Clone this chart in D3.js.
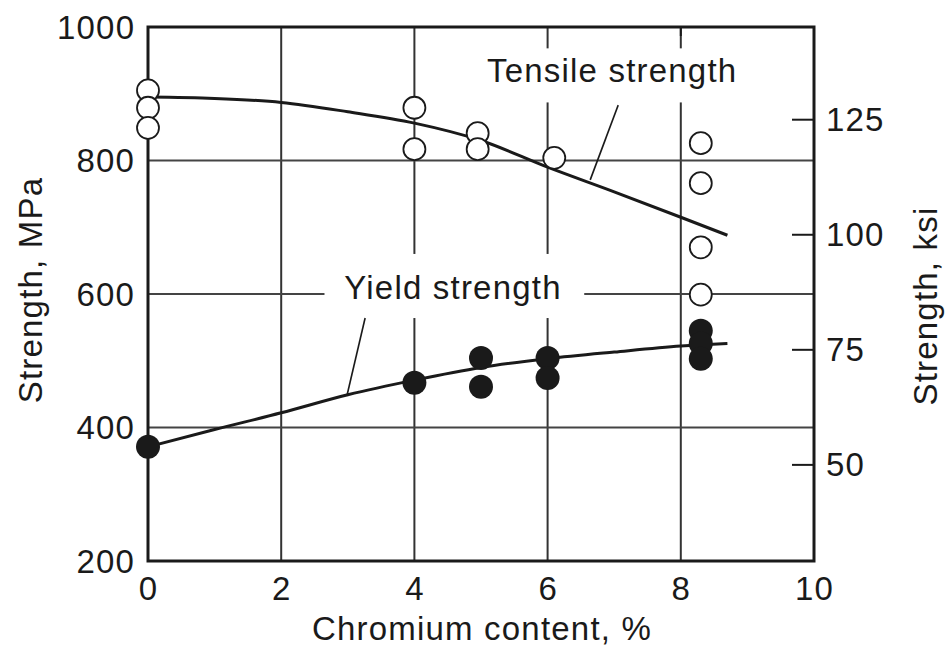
<!DOCTYPE html>
<html>
<head>
<meta charset="utf-8">
<script src="https://cdn.jsdelivr.net/npm/d3@7"></script>
<style>
  html, body { margin: 0; padding: 0; background: #fff; }
  svg { display: block; font-family: 'Liberation Sans', Arial, Helvetica, sans-serif; }
</style>
</head>
<body>
<div id="chart"></div>
<script>
// measured points, MPa
const tensileX = [0, 0, 0, 4, 4, 4.95, 4.95, 6.1, 8.3, 8.3, 8.3, 8.3]
const tensileMPa = [905, 879, 849, 879, 817, 841, 817, 804, 826, 766, 670, 599]
const yieldX = [0, 4, 5, 5, 6, 6, 8.3, 8.3, 8.3]
const yieldMPa = [371, 467, 504, 461, 504, 474, 545, 526, 503]

// fitted curves as drawn
const curveX = [0, 1, 2, 3, 4, 5, 6, 7, 8, 8.7]
const tensileCurveMPa = [895, 893, 887, 873, 856, 830, 790, 753, 715, 688]
const yieldCurveMPa = [371, 397, 422, 449, 471, 490, 503, 513, 522, 526]

const xTicks = [0, 2, 4, 6, 8, 10]
const yTicks = [200, 400, 600, 800, 1000]
const ksiTicks = [50, 75, 100, 125]
const xGrid = [2, 4, 6, 8]
const yGrid = [400, 600, 800]
const MPA_PER_KSI = 6.895

// box = [x0, x1, MPa top, MPa bottom], white patch that breaks the grid
const labels = [
  { text: 'Tensile strength', x: 6.97, y: 936, box: [4.95, 8.95, 968, 887], leader: [[7.06, 883], [6.64, 771]] },
  { text: 'Yield strength', x: 4.58, y: 611, box: [2.65, 6.55, 660, 564], leader: [[3.26, 564], [2.99, 449]] }
]

const width = 945
const height = 651
const margin = { top: 27, right: 131, bottom: 90, left: 148 }

const svg = d3.select('#chart')
  .append('svg')
  .attr('width', width)
  .attr('height', height)

const xScale = d3.scaleLinear()
  .domain([0, 10])
  .range([margin.left, width - margin.right])
const yScale = d3.scaleLinear()
  .domain([200, 1000])
  .range([height - margin.bottom, margin.top])
const ksiScale = d3.scaleLinear()
  .domain([200 / MPA_PER_KSI, 1000 / MPA_PER_KSI])
  .range([height - margin.bottom, margin.top])

const ink = '#1a1a1a'
const fontSize = 33
const spacing = 1.2

const addText = (sel) => sel
  .attr('font-size', fontSize)
  .attr('letter-spacing', spacing)
  .attr('fill', ink)

// grid
svg.append('g')
  .selectAll('line')
  .data(xGrid)
  .join('line')
  .attr('x1', d => xScale(d))
  .attr('x2', d => xScale(d))
  .attr('y1', margin.top)
  .attr('y2', height - margin.bottom)
  .attr('stroke', '#333')
  .attr('stroke-width', 2)
svg.append('g')
  .selectAll('line')
  .data(yGrid)
  .join('line')
  .attr('x1', margin.left)
  .attr('x2', width - margin.right)
  .attr('y1', d => yScale(d))
  .attr('y2', d => yScale(d))
  .attr('stroke', '#444')
  .attr('stroke-width', 2)

svg.append('g')
  .selectAll('rect')
  .data(labels)
  .join('rect')
  .attr('x', d => xScale(d.box[0]))
  .attr('y', d => yScale(d.box[2]))
  .attr('width', d => xScale(d.box[1]) - xScale(d.box[0]))
  .attr('height', d => yScale(d.box[3]) - yScale(d.box[2]))
  .attr('fill', '#fff')

// ksi ticks, inside the frame
svg.append('g')
  .attr('class', 'axisKsi')
  .attr('transform', `translate(${width - margin.right}, 0)`)
  .call(d3.axisLeft(ksiScale).tickValues(ksiTicks).tickSize(22).tickFormat(''))
  .call(g => g.select('.domain').remove())
  .call(g => g.selectAll('line').attr('stroke', ink).attr('stroke-width', 2))

svg.append('g')
  .selectAll('text')
  .data(ksiTicks)
  .join('text')
  .attr('x', width - margin.right + 12)
  .attr('y', d => ksiScale(d))
  .attr('dy', '0.36em')
  .call(addText)
  .text(d => d)

// top tick at 8
svg.append('line')
  .attr('x1', xScale(8))
  .attr('x2', xScale(8))
  .attr('y1', margin.top)
  .attr('y2', margin.top + 9)
  .attr('stroke', ink)
  .attr('stroke-width', 2)

// curves
const line = d3.line()
  .x((d, i) => xScale(curveX[i]))
  .y(d => yScale(d))
  .curve(d3.curveMonotoneX)
svg.append('path')
  .attr('d', line(tensileCurveMPa))
  .attr('fill', 'none')
  .attr('stroke', ink)
  .attr('stroke-width', 3)
svg.append('path')
  .attr('d', line(yieldCurveMPa))
  .attr('fill', 'none')
  .attr('stroke', ink)
  .attr('stroke-width', 3)

// leaders and labels
labels.forEach(l => {
  svg.append('line')
    .attr('x1', xScale(l.leader[0][0]))
    .attr('y1', yScale(l.leader[0][1]))
    .attr('x2', xScale(l.leader[1][0]))
    .attr('y2', yScale(l.leader[1][1]))
    .attr('stroke', ink)
    .attr('stroke-width', 1.6)
  svg.append('text')
    .attr('x', xScale(l.x))
    .attr('y', yScale(l.y))
    .attr('dy', '0.36em')
    .attr('text-anchor', 'middle')
    .call(addText)
    .text(l.text)
})

// frame
svg.append('rect')
  .attr('x', margin.left)
  .attr('y', margin.top)
  .attr('width', width - margin.left - margin.right)
  .attr('height', height - margin.top - margin.bottom)
  .attr('fill', 'none')
  .attr('stroke', ink)
  .attr('stroke-width', 3)

// points
svg.append('g')
  .selectAll('circle')
  .data(tensileMPa)
  .join('circle')
  .attr('cx', (d, i) => xScale(tensileX[i]))
  .attr('cy', d => yScale(d))
  .attr('r', 11)
  .attr('fill', '#fff')
  .attr('stroke', ink)
  .attr('stroke-width', 1.8)
svg.append('g')
  .selectAll('circle')
  .data(yieldMPa)
  .join('circle')
  .attr('cx', (d, i) => xScale(yieldX[i]))
  .attr('cy', d => yScale(d))
  .attr('r', 12)
  .attr('fill', ink)

// tick labels
svg.append('g')
  .selectAll('text')
  .data(xTicks)
  .join('text')
  .attr('x', d => xScale(d) + spacing / 2)
  .attr('y', height - margin.bottom + 39)
  .attr('text-anchor', 'middle')
  .call(addText)
  .text(d => d)
svg.append('g')
  .selectAll('text')
  .data(yTicks)
  .join('text')
  .attr('x', margin.left - 14 + spacing)
  .attr('y', d => yScale(d))
  .attr('dy', '0.36em')
  .attr('text-anchor', 'end')
  .call(addText)
  .text(d => d)

// axis titles
svg.append('text')
  .attr('x', 482)
  .attr('y', height - 11)
  .attr('text-anchor', 'middle')
  .call(addText)
  .text('Chromium content, %')
svg.append('text')
  .attr('transform', `translate(30, 290) rotate(-90)`)
  .attr('dy', '0.36em')
  .attr('text-anchor', 'middle')
  .call(addText)
  .text('Strength, MPa')
svg.append('text')
  .attr('transform', `translate(925, 306) rotate(-90)`)
  .attr('dy', '0.36em')
  .attr('text-anchor', 'middle')
  .call(addText)
  .text('Strength, ksi')
</script>
</body>
</html>
